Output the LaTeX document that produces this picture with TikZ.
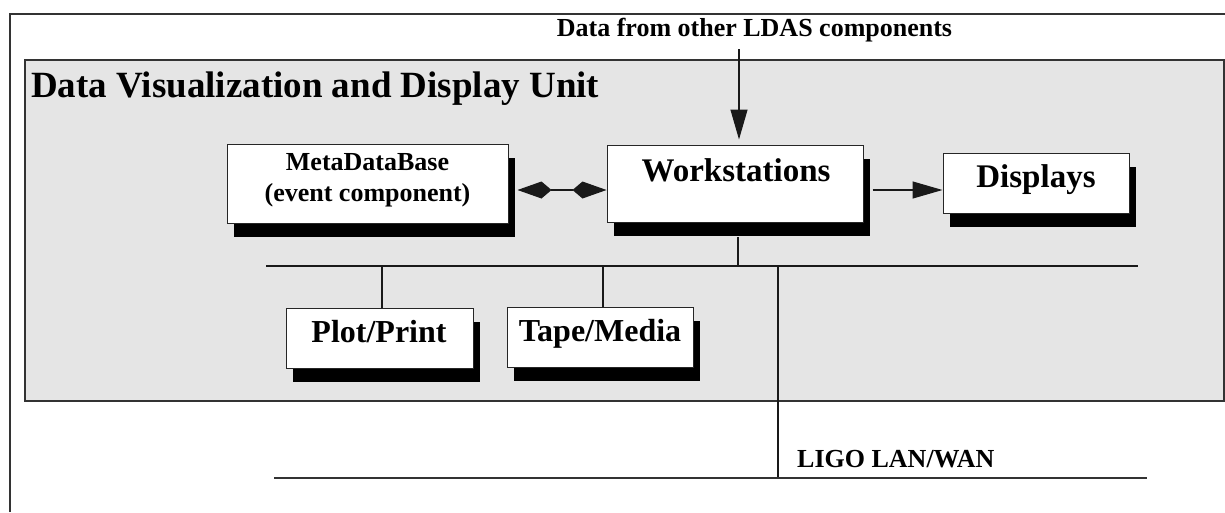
\documentclass[tikz,border=0pt]{standalone}
\usepackage{fontspec}
\setmainfont{Liberation Serif}
\usetikzlibrary{arrows.meta,shadows}
\definecolor{panel}{HTML}{E5E5E5}
\definecolor{edge}{HTML}{333333}
\newcommand{\fs}[1]{\fontsize{#1pt}{#1pt}\selectfont\bfseries}
\begin{document}
\begin{tikzpicture}[x=1pt,y=-1pt,
  unitbox/.style={draw=black!85,line width=1pt,fill=white,inner sep=0pt,
    drop shadow={shadow xshift=7pt,shadow yshift=-14pt,fill=black,opacity=1}},
  lbl/.style={inner sep=0pt,anchor=base},
  wire/.style={draw=black!90,line width=1.2pt},
  flow/.style={wire,-{Triangle[length=30pt,width=17pt]}},
  both/.style={wire,{Kite[length=34pt,width=17pt,inset=10pt]}-{Kite[length=34pt,width=17pt,inset=10pt]}}]
\useasboundingbox (0,0) rectangle (1225,512);

% outer frame (continues past the right and bottom edges)
\draw[edge,line width=2pt] (9.5,512) -- (9.5,14) -- (1225,14);

% unit panel
\draw[edge,line width=2pt,fill=panel] (24.5,60) rectangle (1224,400.5);
\node[lbl,anchor=base west,font=\fs{37}] (title) at (31,97) {Data Visualization and Display Unit};

% incoming data label
\node[lbl,font=\fs{26}] (src) at (754.5,36.7) {Data from other LDAS components};

% boxes
\node[unitbox,minimum width=281pt,minimum height=79pt] (meta) at (367.5,183.5) {};
\node[unitbox,minimum width=256pt,minimum height=77pt] (ws) at (735,183.5) {};
\node[unitbox,minimum width=186pt,minimum height=60pt] (disp) at (1036,183) {};
\node[unitbox,minimum width=187pt,minimum height=60pt] (plot) at (379.5,338) {};
\node[unitbox,minimum width=186pt,minimum height=60pt] (tape) at (600,337) {};

\node[lbl,font=\fs{26}] (metaA) at (367.5,170) {MetaDataBase};
\node[lbl,font=\fs{26}] (metaB) at (367.5,201) {(event component)};
\node[lbl,font=\fs{33}] (wsT) at (736,181) {Workstations};
\node[lbl,font=\fs{33}] (dispT) at (1036,187) {Displays};
\node[lbl,font=\fs{32}] (plotT) at (379,342) {Plot/Print};
\node[lbl,font=\fs{32}] (tapeT) at (600,341) {Tape/Media};

% connection points
\coordinate (inTop) at (739,49);
\coordinate (arrY) at (0,190);
\coordinate (busL) at (266,266);
\coordinate (busR) at (1138,266);
\coordinate (wsDrop) at (738,237);
\coordinate (plotDrop) at (382,266);
\coordinate (tapeDrop) at (603,266);
\coordinate (lanTop) at (778,266);
\coordinate (lanL) at (274,478);
\coordinate (lanR) at (1147,478);

% arrows
\draw[flow] (inTop) -- ([yshift=5pt]inTop |- ws.north);
\draw[flow] ([xshift=9pt]ws.east |- arrY) -- (disp.west |- arrY);
\draw[both] ([xshift=9pt]meta.east |- arrY) -- (ws.west |- arrY);

% local bus
\draw[wire] (busL) -- (busR);
\draw[wire] (wsDrop) -- (wsDrop |- busL);
\draw[wire] (plotDrop) -- (plotDrop |- plot.north);
\draw[wire] (tapeDrop) -- (tapeDrop |- tape.north);

% site network
\draw[wire,line width=1.5pt] (lanTop) -- (lanTop |- lanL);
\draw[edge,line width=2pt] (lanL) -- (lanR);
\node[lbl,anchor=base west,font=\fs{26}] (lan) at (797,467) {LIGO LAN/WAN};
\end{tikzpicture}
\end{document}
